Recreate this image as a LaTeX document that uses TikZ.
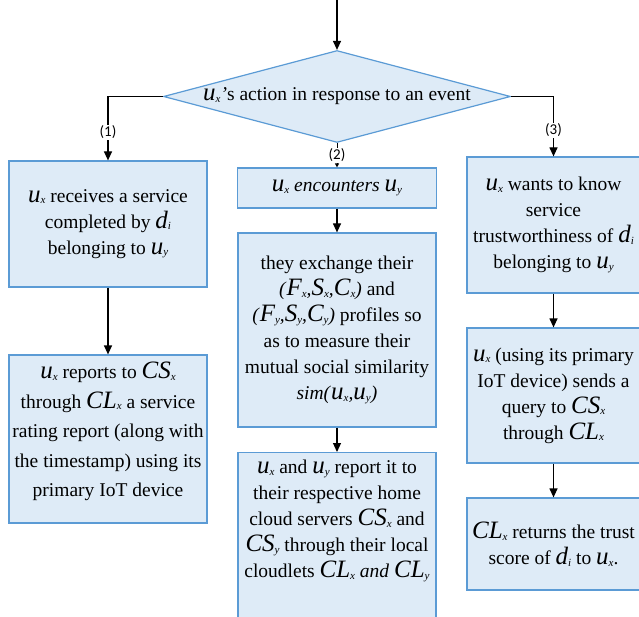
\documentclass[tikz,border=0pt]{standalone}
\usepackage{fontspec}
\setmainfont{LiberationSerif}[Extension=.ttf, UprightFont=*-Regular, ItalicFont=*-Italic, BoldFont=*-Bold, BoldItalicFont=*-BoldItalic]
\newfontfamily\lblfont{Carlito}
\usetikzlibrary{arrows.meta,shapes.geometric}
\definecolor{boxfill}{HTML}{DEEBF7}
\definecolor{boxline}{HTML}{5B9BD5}
% large italic symbol with a small italic subscript
\newcommand\vsym[2]{{\fontsize{25}{26}\selectfont\itshape #1}\raisebox{-1.5pt}{\fontsize{11}{12}\selectfont\itshape #2}}
\begin{document}
\begin{tikzpicture}[x=1pt,y=-1pt,
  txt/.style={font=\rmfamily\fontsize{19.5}{26}\selectfont, align=center, inner sep=0pt},
  box/.style={txt, draw=boxline, fill=boxfill, line width=1.2pt},
  decision/.style={box, diamond, shape aspect=3.77, minimum width=347pt, minimum height=92pt},
  arr/.style={line width=1.2pt, -{Triangle[length=9pt,width=8pt]}},
  arrsmall/.style={line width=1pt, -{Triangle[length=4pt,width=4pt]}},
  lbl/.style={font=\lblfont\fontsize{15}{15}\selectfont, fill=white, inner sep=1pt}]
\clip (0,0) rectangle (639,617);

% decision
\coordinate (start) at (337,-5);
\node[decision] (dia) at (337,96.5) {\vsym{u}{x}\textit{'}s action in response to an event};

% branch (1)
\node[box, minimum width=198pt, minimum height=126pt] (b1) at (108,224)
  {\vsym{u}{x} receives a service\\ completed by \vsym{d}{i}\\ belonging to \vsym{u}{y}};
\node[box, font=\rmfamily\fontsize{19.5}{29.5}\selectfont, text depth=19pt,
      minimum width=198pt, minimum height=168pt] (b2) at (108,439)
  {\vsym{u}{x} reports to \vsym{CS}{x}\\ through \vsym{CL}{x} a service\\ rating report (along with\\ the timestamp) using its\\ primary IoT device};

% branch (2)
\node[box, minimum width=199pt, minimum height=40pt] (m1) at (337,188)
  {\vsym{u}{x} \textit{encounters} \vsym{u}{y}};
\node[box, minimum width=198pt, minimum height=194pt] (m2) at (337,330)
  {they exchange their\\
   \textit{(}\vsym{F}{x}\textit{,}\vsym{S}{x}\textit{,}\vsym{C}{x}\textit{)} and\\
   \textit{(}\vsym{F}{y}\textit{,}\vsym{S}{y}\textit{,}\vsym{C}{y}\textit{)} profiles so\\
   as to measure their\\ mutual social similarity\\
   \textit{sim(}\vsym{u}{x}\textit{,}\vsym{u}{y}\textit{)}};
\node[box, minimum width=198pt, minimum height=200pt, anchor=north] (m3) at (337,452) {};
\node[txt, anchor=north] (m3t) at (337,460)
  {\vsym{u}{x} and \vsym{u}{y} report it to\\ their respective home\\
   cloud servers \vsym{CS}{x} and\\ \vsym{CS}{y} through their local\\
   cloudlets \vsym{CL}{x} \textit{and} \vsym{CL}{y}};

% branch (3)
\node[box, minimum width=173pt, minimum height=136pt] (r1) at (553.5,225)
  {\vsym{u}{x} wants to know\\ service\\ trustworthiness of \vsym{d}{i}\\ belonging to \vsym{u}{y}};
\node[box, minimum width=173pt, minimum height=135pt] (r2) at (553.5,395.5)
  {\vsym{u}{x} (using its primary\\ IoT device) sends a\\ query to \vsym{CS}{x}\\ through \vsym{CL}{x}};
\node[box, minimum width=173pt, minimum height=92pt] (r3) at (553.5,544)
  {\vsym{CL}{x} returns the trust\\ score of \vsym{d}{i} to \vsym{u}{x}.};

% connectors
\draw[arr] (start) -- (dia.north);
\draw[arr] (dia.west) -| node[lbl, pos=0.78] {(1)} (b1.north);
\draw[arrsmall] (dia.south) -- node[lbl] {(2)} (m1.north);
\draw[arr] (dia.east) -| node[lbl, pos=0.78] {(3)} (r1.north);
\draw[arr] (b1.south) -- (b2.north);
\draw[arr] (m1.south) -- (m2.north);
\draw[arr] (m2.south) -- (m3.north);
\draw[arr] (r1.south) -- (r2.north);
\draw[arr] (r2.south) -- (r3.north);
\end{tikzpicture}
\end{document}
